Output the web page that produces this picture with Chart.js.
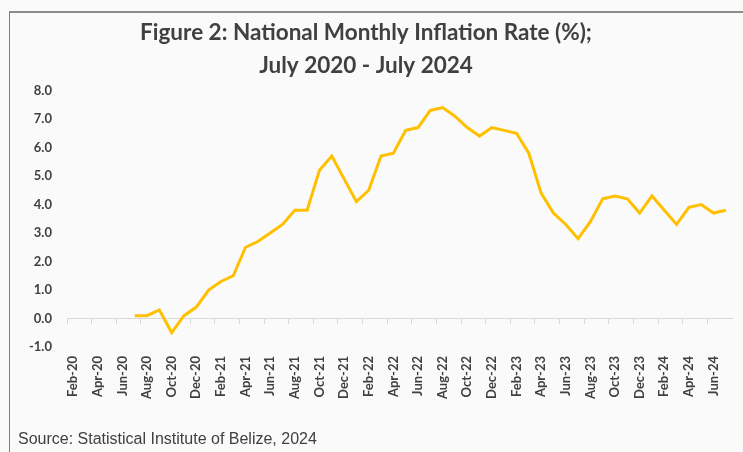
<!DOCTYPE html>
<html>
<head>
<meta charset="utf-8">
<script src="https://cdn.jsdelivr.net/npm/chart.js@4.4.1/dist/chart.umd.min.js"></script>
<style>
  body { margin: 0; background: #fafafa; }
  #frame { position: absolute; left: 9px; top: 11px; width: 800px; height: 500px;
           border-top: 2px solid #8c8c8c; border-left: 1px solid #7f7f7f; }
  #wrap { position: absolute; left: 0; top: 0; width: 743px; height: 452px; overflow: hidden; }
  #source { position: absolute; left: 18px; top: 431px; font-family: "Liberation Sans", Arial, sans-serif;
            font-size: 16px; line-height: 16px; color: #404040; white-space: nowrap; }
</style>
</head>
<body>
<div id="wrap">
  <div id="frame"></div>
  <canvas id="myChart" width="743" height="452" style="position:absolute;left:0;top:0"></canvas>
  <div id="source">Source: Statistical Institute of Belize, 2024</div>
</div>
<script>
// month labels, Feb 2020 - Jul 2024
let months = [
  'Feb-20', 'Mar-20', 'Apr-20', 'May-20', 'Jun-20', 'Jul-20', 'Aug-20', 'Sep-20', 'Oct-20', 'Nov-20', 'Dec-20',
  'Jan-21', 'Feb-21', 'Mar-21', 'Apr-21', 'May-21', 'Jun-21', 'Jul-21', 'Aug-21', 'Sep-21', 'Oct-21', 'Nov-21', 'Dec-21',
  'Jan-22', 'Feb-22', 'Mar-22', 'Apr-22', 'May-22', 'Jun-22', 'Jul-22', 'Aug-22', 'Sep-22', 'Oct-22', 'Nov-22', 'Dec-22',
  'Jan-23', 'Feb-23', 'Mar-23', 'Apr-23', 'May-23', 'Jun-23', 'Jul-23', 'Aug-23', 'Sep-23', 'Oct-23', 'Nov-23', 'Dec-23',
  'Jan-24', 'Feb-24', 'Mar-24', 'Apr-24', 'May-24', 'Jun-24', 'Jul-24'
];

// inflation rate (%), no data before Jul-20
let inflation = [
  null, null, null, null, null, 0.1, 0.1, 0.3, -0.5, 0.1, 0.4,
  1.0, 1.3, 1.5, 2.5, 2.7, 3.0, 3.3, 3.8, 3.8, 5.2, 5.7, 4.9,
  4.1, 4.5, 5.7, 5.8, 6.6, 6.7, 7.3, 7.4, 7.1, 6.7, 6.4, 6.7,
  6.6, 6.5, 5.8, 4.4, 3.7, 3.3, 2.8, 3.4, 4.2, 4.3, 4.2, 3.7,
  4.3, 3.8, 3.3, 3.9, 4.0, 3.7, 3.8
];

let yMin = -1;
let yMax = 8;

const textColor = '#404040';
const axisColor = '#d9d9d9';

function noSidePadding(scale) {
  scale.paddingLeft = 0;
  scale.paddingRight = 0;
}

const ctx = document.getElementById('myChart');

new Chart(ctx, {
  type: 'line',
  data: {
    labels: months,
    datasets: [{
      label: 'Inflation rate',
      data: inflation,
      borderColor: '#ffc000',
      backgroundColor: '#ffc000',
      borderWidth: 3,
      pointRadius: 0,
      tension: 0,
      fill: false,
      xAxisID: 'x',
      yAxisID: 'y'
    }]
  },
  options: {
    responsive: false,
    animation: false,
    layout: { padding: { left: 0, right: 11, top: 0, bottom: 40 } },
    plugins: {
      legend: { display: false },
      tooltip: { enabled: false },
      title: {
        display: true,
        text: ['Figure 2: National Monthly Inflation Rate (%);', 'July 2020 - July 2024'],
        color: textColor,
        font: { family: 'Lato', size: 22.5, weight: 'bold', lineHeight: 1.5 },
        padding: { top: 15.5, bottom: 7.5 }
      }
    },
    scales: {
      // labels axis at the bottom
      x: {
        type: 'category',
        offset: true,
        grid: { display: false, drawTicks: false },
        border: { display: false },
        ticks: {
          autoSkip: false,
          maxRotation: 90,
          minRotation: 90,
          padding: 9,
          color: textColor,
          font: { family: 'Lato', size: 13, weight: 'bold' },
          callback: function(value, index) {
            return index % 2 === 0 ? this.getLabelForValue(value) : '';
          }
        },
        afterFit: function(scale) { scale.height = 65; noSidePadding(scale); }
      },
      // zero line with tick marks
      x0: {
        type: 'category',
        position: { y: 0 },
        offset: true,
        grid: {
          offset: true,
          drawOnChartArea: false,
          drawTicks: true,
          tickLength: 5,
          tickColor: function(c) { return c.index % 2 === 0 ? axisColor : 'rgba(0,0,0,0)'; }
        },
        border: { display: true, color: axisColor, width: 1 },
        ticks: { display: false },
        afterFit: noSidePadding
      },
      y: {
        min: yMin,
        max: yMax,
        grid: { display: false, drawTicks: false },
        border: { display: false },
        ticks: {
          stepSize: 1,
          padding: 15,
          color: textColor,
          font: { family: 'Lato', size: 13, weight: 'bold' },
          callback: function(value) { return value.toFixed(1); }
        },
        afterFit: function(scale) { scale.width = 67; }
      }
    }
  }
});
</script>
</body>
</html>
